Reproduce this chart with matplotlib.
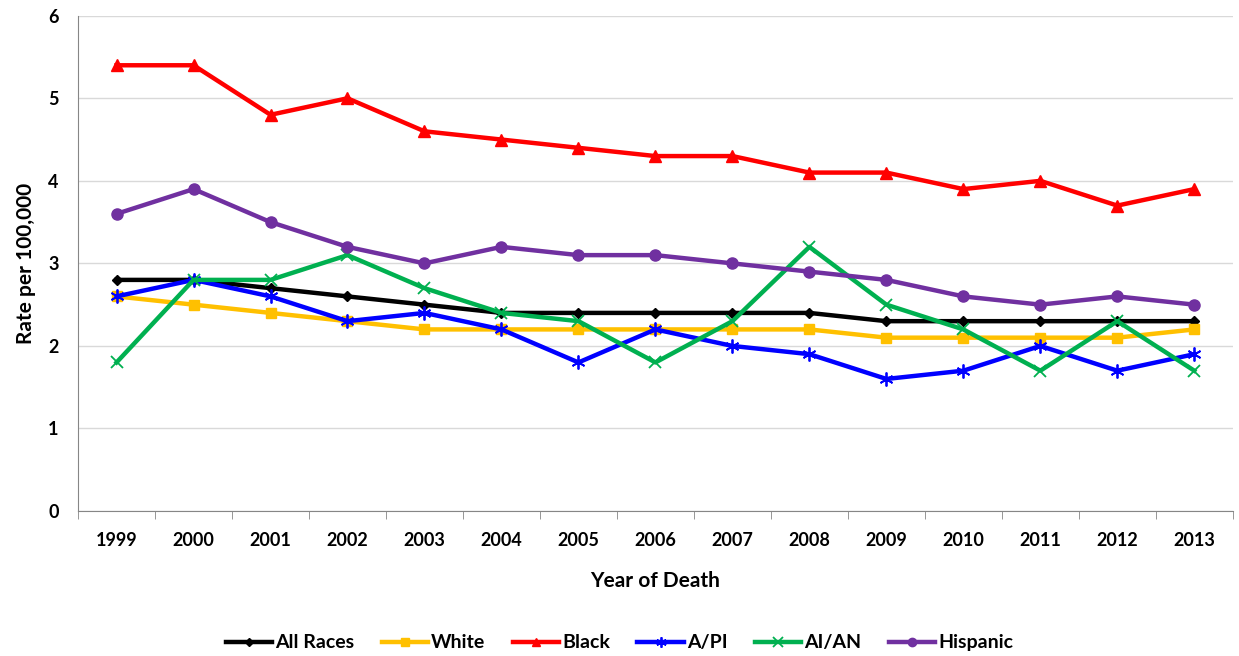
import numpy as np
import matplotlib.pyplot as plt

plt.rcParams['font.family'] = ['Lato', 'DejaVu Sans']

years = ['1999', '2000', '2001', '2002', '2003', '2004', '2005', '2006',
         '2007', '2008', '2009', '2010', '2011', '2012', '2013']

all_races = [2.8, 2.8, 2.7, 2.6, 2.5, 2.4, 2.4, 2.4, 2.4, 2.4, 2.3, 2.3, 2.3, 2.3, 2.3]
white = [2.6, 2.5, 2.4, 2.3, 2.2, 2.2, 2.2, 2.2, 2.2, 2.2, 2.1, 2.1, 2.1, 2.1, 2.2]
black = [5.4, 5.4, 4.8, 5.0, 4.6, 4.5, 4.4, 4.3, 4.3, 4.1, 4.1, 3.9, 4.0, 3.7, 3.9]
api = [2.6, 2.8, 2.6, 2.3, 2.4, 2.2, 1.8, 2.2, 2.0, 1.9, 1.6, 1.7, 2.0, 1.7, 1.9]
aian = [1.8, 2.8, 2.8, 3.1, 2.7, 2.4, 2.3, 1.8, 2.3, 3.2, 2.5, 2.2, 1.7, 2.3, 1.7]
hispanic = [3.6, 3.9, 3.5, 3.2, 3.0, 3.2, 3.1, 3.1, 3.0, 2.9, 2.8, 2.6, 2.5, 2.6, 2.5]

fig = plt.figure(figsize=(12.39, 6.56), dpi=100)
ax = fig.add_axes([0.063, 0.221, 0.932, 0.755])

x = np.arange(len(years))
series = [
    ('All Races', all_races, '#000000', 'D', 5),
    ('White', white, '#FFC000', 's', 7),
    ('Black', black, '#FF0000', '^', 8),
    ('A/PI', api, '#0000FF', (6, 2, 0), 10),
    ('AI/AN', aian, '#00B050', 'x', 9),
    ('Hispanic', hispanic, '#7030A0', 'o', 8),
]
for name, vals, col, mk, ms in series:
    ax.plot(x, vals, color=col, lw=3.2, marker=mk, markersize=ms,
            markeredgewidth=1.3 if mk in ('x', (6, 2, 0)) else 1,
            markeredgecolor=col, markerfacecolor=col, label=name, zorder=3)

ax.set_xlim(-0.5, len(years) - 0.5)
ax.set_ylim(0, 6)
ax.set_yticks(range(0, 7))
ax.set_xticks(x)
ax.set_xticklabels(years)
ax.set_xticks(np.arange(-0.5, len(years), 1), minor=True)
ax.tick_params(axis='x', which='major', length=0, pad=15)
ax.tick_params(axis='x', which='minor', length=6, color='#868686')
ax.tick_params(axis='y', length=0, pad=14)
for lab in ax.get_xticklabels() + ax.get_yticklabels():
    lab.set_fontsize(13)
    lab.set_fontweight('bold')

ax.grid(axis='y', color='#D9D9D9', lw=1)
ax.set_axisbelow(True)
for s in ['top', 'right']:
    ax.spines[s].set_visible(False)
ax.spines['left'].set_color('#868686')
ax.spines['bottom'].set_color('#868686')

ax.set_xlabel('Year of Death', fontsize=15, fontweight='bold', labelpad=16)
ax.set_ylabel('Rate per 100,000', fontsize=15, fontweight='bold', labelpad=9)

leg = fig.legend(loc='center', bbox_to_anchor=(0.5, 0.02), ncol=6, frameon=False,
                 prop={'size': 14, 'weight': 'bold'}, handlelength=2.4,
                 handletextpad=0.15, columnspacing=1.4, markerscale=0.75)

fig.savefig('out.png', dpi=100)
